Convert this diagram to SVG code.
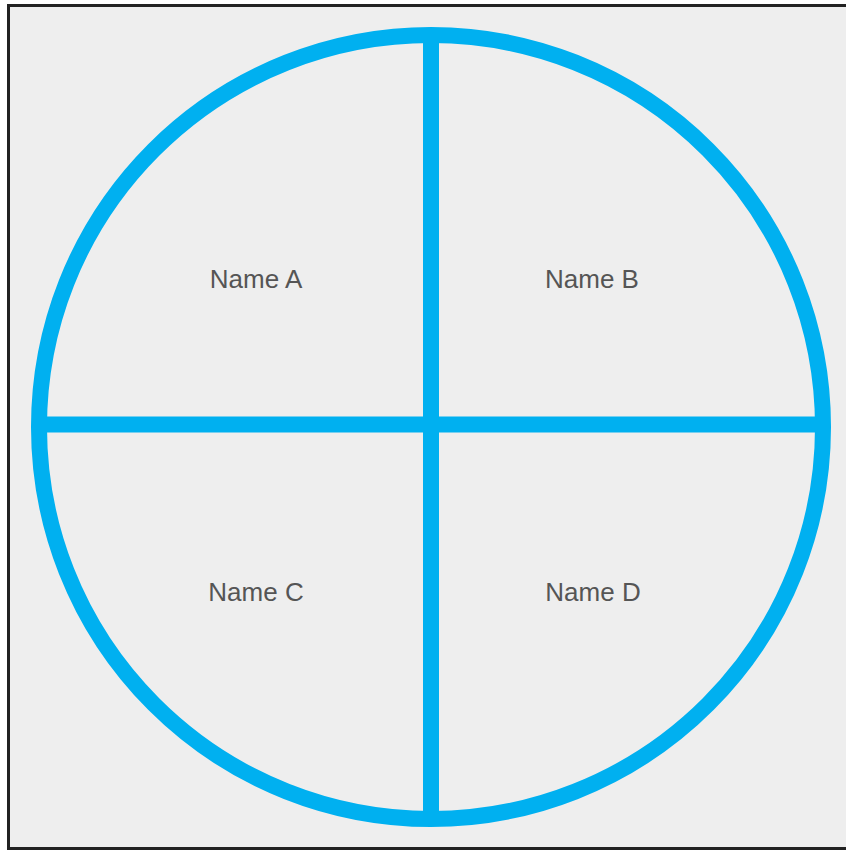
<svg xmlns="http://www.w3.org/2000/svg" width="846" height="850" viewBox="0 0 846 850">
<style>
.lbl{font-family:"Liberation Sans",Arial,sans-serif;font-size:26px;fill:#555555;text-anchor:middle}
.blue{stroke:#00b0f0;stroke-width:16;fill:none}
</style>
<rect x="0" y="0" width="846" height="850" fill="#ffffff"/>
<rect x="8.5" y="5.5" width="860" height="843" fill="#eeeeee" stroke="#222222" stroke-width="3"/>
<g id="circle"><circle class="blue" cx="431" cy="427" r="392"/></g>
<g id="connectors">
<line class="blue" x1="431" y1="35" x2="431" y2="819"/>
<line class="blue" x1="39" y1="424.5" x2="823" y2="424.5"/>
</g>
<g id="nodeA"><text class="lbl" x="256" y="288">Name A</text></g>
<g id="nodeB"><text class="lbl" x="592" y="288">Name B</text></g>
<g id="nodeC"><text class="lbl" x="256" y="601">Name C</text></g>
<g id="nodeD"><text class="lbl" x="593" y="601">Name D</text></g>
</svg>
